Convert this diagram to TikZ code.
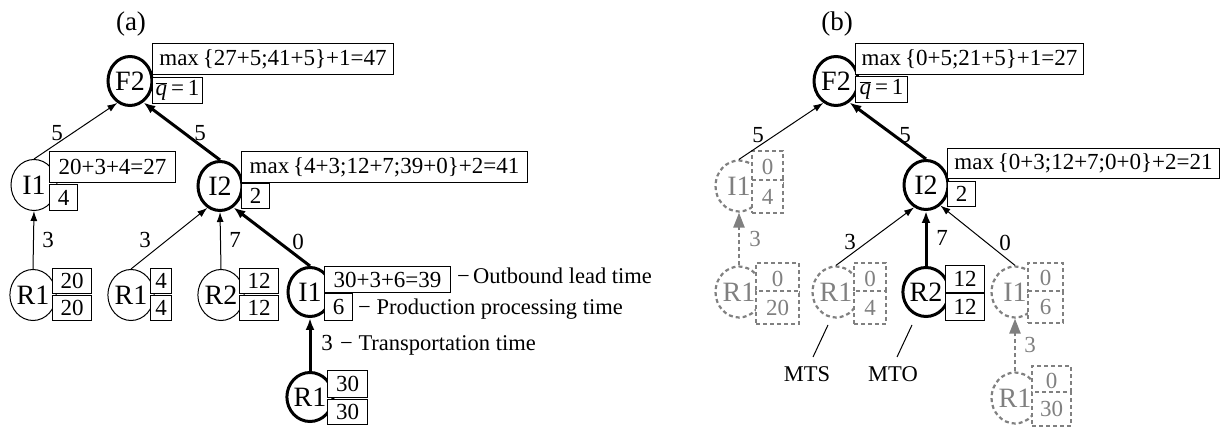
\documentclass[tikz,border=0pt]{standalone}
\usepackage{fontspec}
\setmainfont{Liberation Serif}
\usetikzlibrary{shapes.geometric,arrows.meta}
\definecolor{dgray}{RGB}{128,128,128}
\tikzset{
 nd/.style={ellipse, draw, line width=1pt, minimum width=46pt, minimum height=51pt, inner sep=0pt, font=\fontsize{28}{30}\selectfont},
 ndb/.style={nd, line width=3pt, minimum width=44pt, minimum height=49pt},
 ndg/.style={nd, draw=dgray, text=dgray, line width=2.2pt, dash pattern=on 4pt off 3pt, minimum width=47pt},
 bx/.style={draw, fill=white, line width=1pt, inner sep=0pt, anchor=north west, font=\fontsize{23}{26}\selectfont},
 bxg/.style={bx, draw=dgray, text=dgray, line width=2.2pt, dash pattern=on 4pt off 3pt},
 lbl/.style={font=\fontsize{23}{26}\selectfont, inner sep=0pt},
 lblg/.style={lbl, text=dgray},
 ann/.style={font=\fontsize{22.5}{26}\selectfont, inner sep=0pt, anchor=base west},
 ethin/.style={line width=1pt, -{Latex[length=10pt,width=7pt]}},
 ethick/.style={line width=3pt, -{Latex[length=12pt,width=9pt]}},
 egray/.style={line width=2.4pt, draw=dgray, dash pattern=on 4pt off 3pt, -{Triangle[length=15pt,width=11pt,fill=dgray]}},
 plain/.style={line width=1pt},
 ttl/.style={font=\fontsize{27}{30}\selectfont},
}
\newcommand{\qbar}{$\overline{\mbox{\itshape q}}$\,=\,1}
\begin{document}
\begin{tikzpicture}[x=1pt,y=-1pt]
\useasboundingbox (0,0) rectangle (1221,430);
% ---------------- panel (a) ----------------
\node[ttl] (ta) at (131,24) {(a)};
\node[ndb] (F2a) at (130,81) {F2};
\node[nd]  (I1a) at (34,185) {I1};
\node[ndb] (I2a) at (220,186) {I2};
\node[nd]  (R1a) at (33,295) {R1};
\node[nd]  (R1b) at (131,295) {R1};
\node[nd]  (R2a) at (221,295) {R2};
\node[ndb] (I1b) at (310,292) {I1};
\node[ndb] (R1c) at (310,397) {R1};
% boxes
\node[bx, minimum width=241pt, minimum height=31pt] (F2aT) at (152,43) {max\,\{27+5;41+5\}+1=47};
\node[bx, minimum width=50pt, minimum height=26pt] (F2aB) at (152,77) {\qbar};
\node[bx, minimum width=126pt, minimum height=31pt] (I1aT) at (49,151) {20+3+4=27};
\node[bx, minimum width=28pt, minimum height=26pt] (I1aB) at (49,184) {4};
\node[bx, minimum width=286pt, minimum height=31pt] (I2aT) at (241,151) {max\,\{4+3;12+7;39+0\}+2=41};
\node[bx, minimum width=28pt, minimum height=25pt] (I2aB) at (241,183) {2};
\node[bx, minimum width=39pt, minimum height=25pt] (R1aT) at (52,268) {20};
\node[bx, minimum width=39pt, minimum height=25pt] (R1aB) at (52,295) {20};
\node[bx, minimum width=21pt, minimum height=25pt] (R1bT) at (150,268) {4};
\node[bx, minimum width=21pt, minimum height=25pt] (R1bB) at (150,295) {4};
\node[bx, minimum width=39pt, minimum height=25pt] (R2aT) at (239,268) {12};
\node[bx, minimum width=39pt, minimum height=25pt] (R2aB) at (239,295) {12};
\node[bx, minimum width=126pt, minimum height=26pt] (I1bT) at (324,266) {30+3+6=39};
\node[bx, minimum width=28pt, minimum height=27pt] (I1bB) at (324,293) {6};
\node[bx, minimum width=40pt, minimum height=27pt] (R1cT) at (327,370) {30};
\node[bx, minimum width=40pt, minimum height=25pt] (R1cB) at (327,399) {30};
% edges
\draw[ethin]  (I1a.north) -- (F2a.-120);
\draw[ethick] (I2a.north) -- (F2a.-58);
\draw[ethin]  (R1a.north) -- (I1a.south);
\draw[ethin]  (R1b.north) -- (I2a.-120);
\draw[ethin]  (R2a.north) -- (I2a.south);
\draw[ethick] (I1b.north) -- (I2a.-58);
\draw[ethick] (R1c.north) -- (I1b.south);
% edge labels
\node[lbl] (la1) at (57,133) {5};
\node[lbl] (la2) at (200,133) {5};
\node[lbl] (la3) at (48,240) {3};
\node[lbl] (la4) at (145,240) {3};
\node[lbl] (la5) at (235,240) {7};
\node[lbl] (la6) at (298,242) {0};
\node[lbl, anchor=base] (la7) at (327,350) {3};
% annotations
\node[ann] (an1) at (457,284) {−\hspace{0.15em}Outbound lead time};
\node[ann] (an2) at (358,315) {− Production processing time};
\node[ann] (an3) at (340,350) {− Transportation time};
% ---------------- panel (b) ----------------
\node[ttl] (tb) at (837,24) {(b)};
\node[ndb] (F2r) at (836,81) {F2};
\node[ndg] (I1r) at (739,186) {I1};
\node[ndb] (I2r) at (926,185) {I2};
\node[ndg] (R1r) at (739,292) {R1};
\node[ndg] (R1s) at (836,292) {R1};
\node[ndb] (R2r) at (926,292) {R2};
\node[ndg] (I1s) at (1015,292) {I1};
\node[ndg] (R1t) at (1015,398) {R1};
% boxes
\node[bx, minimum width=228pt, minimum height=31pt] (F2rT) at (855,43) {max\,\{0+5;21+5\}+1=27};
\node[bx, minimum width=52pt, minimum height=26pt] (F2rB) at (855,76) {\qbar};
\node[bxg, minimum width=31pt, minimum height=32pt] (I1rT) at (751,150) {0};
\node[bxg, minimum width=31pt, minimum height=33pt] (I1rB) at (751,179) {4};
\node[bx, minimum width=272pt, minimum height=30pt] (I2rT) at (947,148) {max\,\{0+3;12+7;0+0\}+2=21};
\node[bx, minimum width=28pt, minimum height=25pt] (I2rB) at (947,181) {2};
\node[bxg, minimum width=43pt, minimum height=31pt] (R1rT) at (755,262) {0};
\node[bxg, minimum width=43pt, minimum height=33pt] (R1rB) at (755,290) {20};
\node[bxg, minimum width=32pt, minimum height=31pt] (R1sT) at (853,262) {0};
\node[bxg, minimum width=32pt, minimum height=33pt] (R1sB) at (853,290) {4};
\node[bx, minimum width=39pt, minimum height=27pt] (R2rT) at (945,265) {12};
\node[bx, minimum width=39pt, minimum height=27pt] (R2rB) at (945,293) {12};
\node[bxg, minimum width=35pt, minimum height=30pt] (I1sT) at (1027,262) {0};
\node[bxg, minimum width=35pt, minimum height=32pt] (I1sB) at (1027,290) {6};
\node[bxg, minimum width=39pt, minimum height=29pt] (R1tT) at (1031,365) {0};
\node[bxg, minimum width=39pt, minimum height=34pt] (R1tB) at (1031,391) {30};
% edges
\draw[ethin]  (I1r.north) -- (F2r.-120);
\draw[ethick] (I2r.north) -- (F2r.-58);
\draw[egray]  (R1r.north) -- (I1r.south);
\draw[ethin]  (R1s.north) -- (I2r.-118);
\draw[ethick] (R2r.north) -- (I2r.south);
\draw[ethin]  (I1s.north) -- (I2r.-55);
\draw[egray]  (R1t.north) -- (I1s.south);
% edge labels
\node[lbl] (lb1) at (758,135) {5};
\node[lbl] (lb2) at (905,135) {5};
\node[lblg] (lb3) at (755,239) {3};
\node[lbl] (lb4) at (850,242) {3};
\node[lbl] (lb5) at (942,238) {7};
\node[lbl] (lb6) at (1005,243) {0};
\node[lblg] (lb7) at (1030,345) {3};
% MTS / MTO
\node[font=\fontsize{22.5}{26}\selectfont, inner sep=0pt] (MTS) at (807,374) {MTS};
\node[font=\fontsize{22.5}{26}\selectfont, inner sep=0pt] (MTO) at (893,374) {MTO};
\coordinate (mtsA) at (828,325);
\coordinate (mtsB) at (813,357);
\coordinate (mtoA) at (912,325);
\coordinate (mtoB) at (897,357);
\draw[plain] (mtsA) -- (mtsB);
\draw[plain] (mtoA) -- (mtoB);
\end{tikzpicture}
\end{document}
